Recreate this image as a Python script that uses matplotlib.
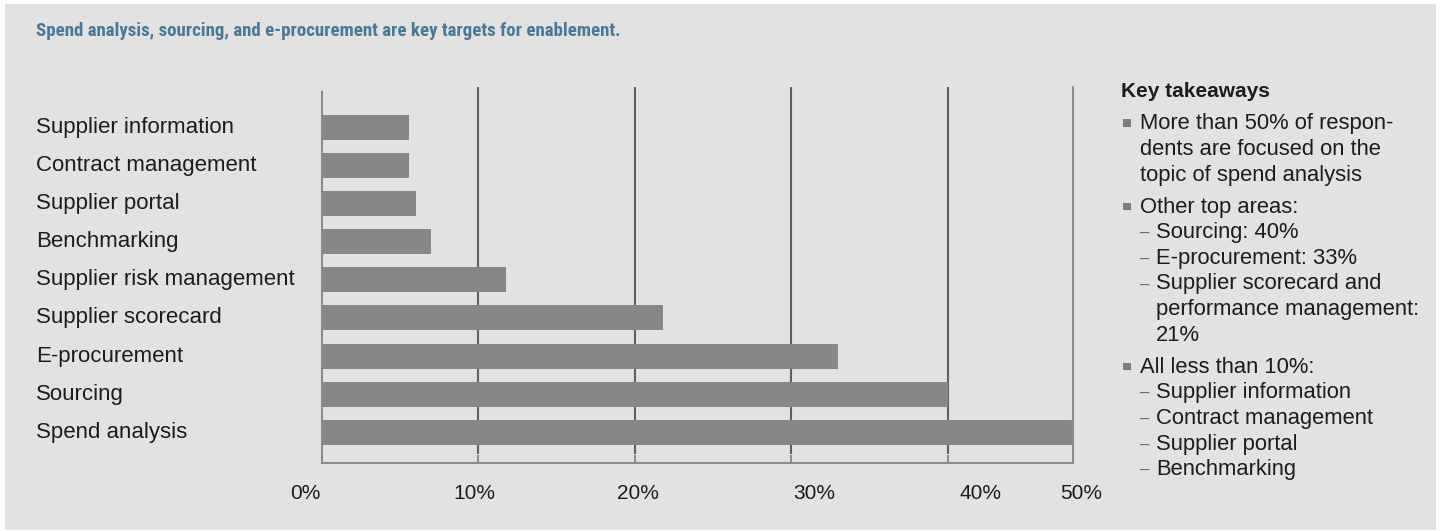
import matplotlib
matplotlib.use("Agg")
import matplotlib.pyplot as plt
from matplotlib.patches import Rectangle
from matplotlib import transforms

# ---- data -------------------------------------------------------------
title = "Spend analysis, sourcing, and e-procurement are key targets for enablement."
categories = [
    "Supplier information",
    "Contract management",
    "Supplier portal",
    "Benchmarking",
    "Supplier risk management",
    "Supplier scorecard",
    "E-procurement",
    "Sourcing",
    "Spend analysis",
]
shares = [5.6, 5.6, 6.0, 7.0, 11.8, 21.8, 33.0, 40.0, 51.0]   # percent of respondents
tick_labels = ["0%", "10%", "20%", "30%", "40%", "50%"]
panel_heading = "Key takeaways"
takeaways = [
    ("bullet", "More than 50% of respon-"),
    ("cont", "dents are focused on the"),
    ("cont", "topic of spend analysis"),
    ("bullet", "Other top areas:"),
    ("dash", "Sourcing: 40%"),
    ("dash", "E-procurement: 33%"),
    ("dash", "Supplier scorecard and"),
    ("cont2", "performance management:"),
    ("cont2", "21%"),
    ("bullet", "All less than 10%:"),
    ("dash", "Supplier information"),
    ("dash", "Contract management"),
    ("dash", "Supplier portal"),
    ("dash", "Benchmarking"),
]

# ---- layout / style ---------------------------------------------------
W, H = 1443, 531
BG = "#e2e2e2"
BAR = "#878786"
GRID = "#606060"
SPINE = "#8c8c8c"
TXT = "#1c1c1c"
TITLE_C = "#47799a"
FONT = ["Liberation Sans", "DejaVu Sans"]
NARROW = ["Roboto Condensed", "Fira Sans Condensed", "Liberation Sans", "DejaVu Sans"]
X_MAX = 48
# horizontal centres of the axis labels, as fractions of the axis width
label_pos = [-0.0222, 0.2036, 0.4209, 0.6551, 0.8759, 1.0103]

fig = plt.figure(figsize=(W / 100, H / 100), dpi=100, facecolor="white")

# pixel-space overlay for the panel background and free text
over = fig.add_axes([0, 0, 1, 1], zorder=0)
over.set_xlim(0, W)
over.set_ylim(H, 0)
over.axis("off")
over.add_patch(Rectangle((5, 4), 1431, 526, facecolor=BG, edgecolor="none"))

over.text(36, 35.5, title, fontsize=13.6, fontweight="bold", color=TITLE_C,
          family=NARROW, va="baseline", ha="left")

# ---- bar chart ---------------------------------------------------------
ax_l, ax_r, ax_t, ax_b = 321.7, 1073.3, 87, 463.3
ax = fig.add_axes([ax_l / W, (H - ax_b) / H, (ax_r - ax_l) / W, (ax_b - ax_t) / H],
                  zorder=1)
ax.set_facecolor("none")

n = len(categories)
ypos = [n - 1 - i for i in range(n)]
ax.barh(ypos, shares, height=0.656, color=BAR, zorder=2)
ax.set_xlim(0, X_MAX)
ax.set_ylim(-0.814, n - 1 + 1.063)

for x in range(10, X_MAX, 10):
    ax.axvline(x, ymin=0.028, ymax=1, color=GRID, lw=1.5, zorder=1)

ax.set_xticks(range(10, X_MAX, 10))
ax.set_xticklabels([])
ax.tick_params(axis="x", direction="in", length=5.8, width=1.4, color=SPINE)
ax.set_yticks([])

for side in ("left", "right", "bottom"):
    ax.spines[side].set_color(SPINE)
    ax.spines[side].set_linewidth(1.5)
ax.spines["top"].set_visible(False)
ax.spines["left"].set_bounds(-0.814, n - 1 + 1.063 - 0.12)

# axis labels beneath the plot
xlab_tr = transforms.blended_transform_factory(ax.transAxes, over.transData)
for lab, fx in zip(tick_labels, label_pos):
    ax.text(fx, 499.3, lab, transform=xlab_tr, ha="center", va="baseline",
            fontsize=15, color=TXT, family=FONT, clip_on=False)

# category names at the left edge
cat_tr = transforms.blended_transform_factory(over.transData, ax.transData)
for name, y in zip(categories, ypos):
    ax.text(36, y, name, transform=cat_tr, ha="left", va="center",
            fontsize=16, color=TXT, family=FONT, clip_on=False)

# ---- takeaways panel ---------------------------------------------------
over.text(1121, 97, panel_heading, fontsize=15, fontweight="bold", color=TXT,
          family=FONT, va="baseline", ha="left")

y = 123.0
step, gap = 25.6, 6.5
first = True
for kind, line in takeaways:
    if kind == "bullet" and not first:
        y += gap
    base = y + 6.3
    if kind == "bullet":
        over.add_patch(Rectangle((1123.3, y - 3.7), 7.3, 7.3,
                                 facecolor="#7d7d7d", edgecolor="none"))
        over.text(1140, base, line, fontsize=15.8, color=TXT, family=FONT,
                  va="baseline", ha="left")
    elif kind == "cont":
        over.text(1140, base, line, fontsize=15.8, color=TXT, family=FONT,
                  va="baseline", ha="left")
    elif kind == "dash":
        over.text(1140, base, "\u2013", fontsize=12, color="#666666",
                  family=FONT, va="baseline", ha="left")
        over.text(1156, base, line, fontsize=15.8, color=TXT, family=FONT,
                  va="baseline", ha="left")
    else:
        over.text(1156, base, line, fontsize=15.8, color=TXT, family=FONT,
                  va="baseline", ha="left")
    first = False
    y += step

fig.savefig("out.png", dpi=100, facecolor="white")
